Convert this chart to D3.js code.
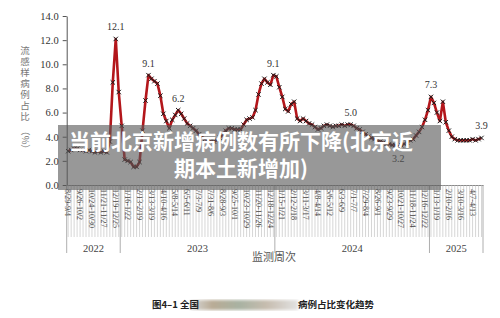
<!DOCTYPE html>
<meta charset="utf-8">
<style>
body { margin: 0; background: #fff; }
svg { display: block; }
.serif { font-family: "Liberation Serif", "DejaVu Serif", serif; }
</style>
<body>
<script src="https://cdn.jsdelivr.net/npm/d3@7"></script>
<script>
// weekly share of ILI cases (%), week 0 = 2022-08-29 ... week 139 = 2025-04-28
var values = [
  2.8, 2.9, 3.0, 3.0, 2.9, 2.9, 2.8, 2.9, 2.8, 2.7, 2.8, 2.7, 2.8, 2.7,
  3.6, 8.5, 12.1, 7.7, 4.9, 2.1, 2.0, 1.9, 1.5, 1.5, 1.9, 4.5, 7.0, 9.1,
  8.8, 8.6, 8.4, 7.4, 5.9, 5.3, 4.7, 5.4, 5.8, 6.2, 5.9, 5.5, 5.1, 4.9,
  4.7, 4.5, 4.2, 4.0, 3.8, 3.7, 3.6, 3.6, 3.7, 3.9, 4.2, 4.5, 4.7, 4.7,
  4.6, 4.6, 4.6, 5.0, 5.4, 5.5, 5.6, 6.2, 7.5, 8.4, 8.8, 8.5, 8.3, 9.1,
  9.0, 8.1, 7.3, 6.3, 6.1, 6.7, 6.9, 5.5, 5.3, 5.5, 5.3, 5.1, 5.0, 4.8,
  4.6, 4.7, 4.9, 5.0, 4.9, 4.8, 4.9, 4.9, 5.0, 4.9, 5.0, 5.0, 4.9, 4.7,
  4.6, 4.4, 4.2, 4.0, 3.9, 3.8, 3.7, 3.6, 3.5, 3.4, 3.4, 3.3, 3.3, 3.2,
  3.3, 3.4, 3.5, 3.7, 3.8, 4.1, 4.4, 4.8, 5.4, 6.2, 7.3, 6.8, 6.0, 5.3,
  6.9, 5.2, 4.5, 4.0, 3.8, 3.7, 3.7, 3.7, 3.7, 3.7, 3.8, 3.7, 3.8, 3.9
];
var weeks = d3.range(values.length);

// one label every 4 weeks
var tickLabels = [
  "8/29-9/4", "9/26-10/2", "10/24-10/30", "11/21-11/27", "12/19-12/25",
  "1/16-1/22", "2/13-2/19", "3/13-3/19", "4/10-4/16", "5/8-5/14", "6/5-6/11",
  "7/3-7/9", "7/31-8/6", "8/28-9/3", "9/25-10/1", "10/23-10/29", "11/20-11/26",
  "12/18-12/24", "1/15-1/21", "2/12-2/18", "3/11-3/17", "4/8-4/14", "5/6-5/12",
  "6/3-6/9", "7/1-7/7", "7/29-8/4", "8/26-9/1", "9/23-9/29", "10/21-10/27",
  "11/18-11/24", "12/16-12/22", "1/13-1/19", "2/10-2/16", "3/10-3/16", "4/7-4/13"
];

var years = ["2022", "2023", "2024", "2025"];
var yearStart = [0, 18, 70, 122];   // first week index of each year

// annotated points: week index, text, above/below
var peakWeeks = [16, 27, 37, 69, 95, 111, 122, 139];
var peakText  = ["12.1", "9.1", "6.2", "9.1", "5.0", "3.2", "7.3", "3.9"];
var peakBelow = [false, false, false, false, false, true, false, false];

var width = 500, height = 318;
var svg = d3.select("body").append("svg")
    .attr("width", width)
    .attr("height", height);

var x = d3.scaleBand()
    .domain(weeks)
    .range([66.7, 483])
    .padding(0);
var bw = x.bandwidth();
var y = d3.scaleLinear()
    .domain([0, 14])
    .range([185, 16]);

function cx(i) { return x(i) + bw / 2; }

// y axis
var yAxis = svg.append("g")
    .attr("class", "serif")
    .attr("transform", "translate(66.7,0)")
    .call(d3.axisLeft(y).tickValues(d3.range(0, 15, 2)).tickFormat(d3.format(".1f")).tickSize(4).tickSizeOuter(0));
yAxis.select(".domain").attr("stroke", "#555");
yAxis.selectAll(".tick line").attr("stroke", "#555");
yAxis.selectAll("text").attr("fill", "#333").style("font-size", "10.5px").attr("x", -8);

// y title, stacked characters, then (%) turned
var yTitle = "流感样病例占比".split("");
svg.selectAll(".yt")
    .data(yTitle)
  .enter().append("text")
    .attr("x", 25)
    .attr("y", function(d, k) { return 51 + k * 11; })
    .attr("dy", "0.35em")
    .attr("text-anchor", "middle")
    .style("font-family", "'Noto Sans CJK SC', sans-serif")
    .style("font-size", "9.5px")
    .attr("fill", "#777")
    .text(function(d) { return d; });
svg.append("text")
    .attr("transform", "translate(25,140) rotate(90)")
    .attr("dy", "0.35em")
    .attr("text-anchor", "middle")
    .style("font-family", "'Noto Sans CJK SC', sans-serif")
    .style("font-size", "9.5px")
    .attr("fill", "#777")
    .text("（%）");

// x axis: a tick per week, label every 4th
var xAxis = svg.append("g")
    .attr("class", "serif")
    .attr("transform", "translate(0,185)")
    .call(d3.axisBottom(x)
      .tickSize(52)
      .tickSizeOuter(0)
      .tickFormat(function(i) { return i % 4 === 0 ? tickLabels[i / 4] : ""; }));
xAxis.select(".domain").attr("stroke", "#888");
xAxis.selectAll(".tick line").attr("stroke", "#bbb").attr("stroke-width", 0.6);
xAxis.selectAll("text")
    .attr("y", 0)
    .attr("x", 4)
    .attr("dy", "0.35em")
    .attr("transform", "rotate(90)")
    .style("text-anchor", "start")
    .style("font-size", "8px")
    .attr("fill", "#444");

// year separators and labels
var yearEdges = yearStart.concat([values.length]);
svg.selectAll(".ysep")
    .data(yearEdges)
  .enter().append("line")
    .attr("x1", function(d) { return d < values.length ? x(d) : x(d - 1) + bw; })
    .attr("x2", function(d) { return d < values.length ? x(d) : x(d - 1) + bw; })
    .attr("y1", 185)
    .attr("y2", 253)
    .attr("stroke", "#999")
    .attr("stroke-width", 0.8);
svg.selectAll(".ylab")
    .data(years)
  .enter().append("text")
    .attr("class", "serif")
    .attr("x", function(d, k) {
      var a = x(yearStart[k]), b = x(yearEdges[k + 1] - 1) + bw;
      return (a + b) / 2;
    })
    .attr("y", 248)
    .attr("dy", "0.35em")
    .attr("text-anchor", "middle")
    .style("font-size", "10.5px")
    .attr("fill", "#444")
    .text(function(d) { return d; });

svg.append("text")
    .attr("x", 274)
    .attr("y", 257)
    .attr("dy", "0.35em")
    .attr("text-anchor", "middle")
    .style("font-family", "'Noto Sans CJK SC', sans-serif")
    .style("font-size", "11px")
    .attr("fill", "#555")
    .text("监测周次");

// the line
var line = d3.line()
    .x(function(d, i) { return cx(i); })
    .y(function(d) { return y(d); });
svg.append("path")
    .datum(values)
    .attr("d", line)
    .attr("fill", "none")
    .attr("stroke", "#b3161b")
    .attr("stroke-width", 2.6)
    .attr("stroke-linejoin", "round");

// x markers
svg.selectAll(".mk")
    .data(values)
  .enter().append("path")
    .attr("d", function(d, i) {
      var px = cx(i), py = y(d), s = 2.2;
      return "M" + (px - s) + "," + (py - s) + "L" + (px + s) + "," + (py + s) +
             "M" + (px - s) + "," + (py + s) + "L" + (px + s) + "," + (py - s);
    })
    .attr("stroke", "#1a1a1a")
    .attr("stroke-width", 1);

// value labels
svg.selectAll(".pk")
    .data(peakWeeks)
  .enter().append("text")
    .attr("class", "serif")
    .attr("x", function(d) { return cx(d); })
    .attr("y", function(d, k) { return y(values[d]) + (peakBelow[k] ? 12 : -12); })
    .attr("dy", "0.35em")
    .attr("text-anchor", "middle")
    .style("font-size", "10px")
    .attr("fill", "#333")
    .text(function(d, k) { return peakText[k]; });

// gray banner on top
svg.append("rect")
    .attr("x", 58)
    .attr("y", 125)
    .attr("width", 383)
    .attr("height", 65)
    .attr("fill", "rgba(88,88,88,0.62)");
var banner = ["当前北京新增病例数有所下降(北京近", "期本土新增加)"];
svg.selectAll(".bn")
    .data(banner)
  .enter().append("text")
    .attr("x", 241)
    .attr("y", function(d, k) { return 142 + k * 27; })
    .attr("dy", "0.35em")
    .attr("text-anchor", "middle")
    .style("font-family", "'Noto Sans CJK SC', sans-serif")
    .style("font-weight", "bold")
    .style("font-size", "21px")
    .attr("fill", "#fff")
    .text(function(d) { return d; });

// caption with blurred part
var defs = svg.append("defs");
var g = defs.append("linearGradient").attr("id", "blurgrad");
[["0%", "#d8d8d8"], ["20%", "#b9ab95"], ["45%", "#a8b2a2"], ["70%", "#c6bcae"], ["100%", "#e2e2e2"]]
  .forEach(function(s) { g.append("stop").attr("offset", s[0]).attr("stop-color", s[1]); });
defs.append("filter").attr("id", "blur")
  .append("feGaussianBlur").attr("stdDeviation", 1.6);
svg.append("rect")
    .attr("x", 191)
    .attr("y", 300)
    .attr("width", 107)
    .attr("height", 10)
    .attr("fill", "url(#blurgrad)")
    .attr("filter", "url(#blur)");

var capStyle = function(t) {
  t.attr("y", 305)
   .attr("dy", "0.35em")
   .style("font-family", "'Noto Sans CJK SC', sans-serif")
   .style("font-weight", "bold")
   .style("font-size", "9.5px")
   .attr("fill", "#222");
};
svg.append("text").attr("x", 152).call(capStyle).text("图4–1 全国");
svg.append("text").attr("x", 298).call(capStyle).text("病例占比变化趋势");
</script>
</body>
